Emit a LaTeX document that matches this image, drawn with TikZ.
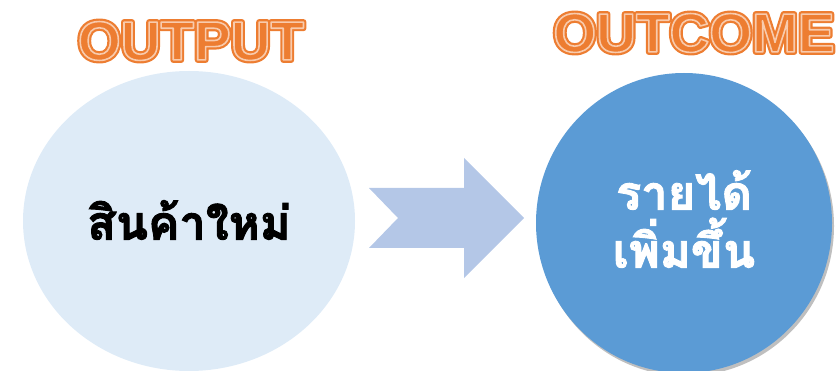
\documentclass[tikz,border=0pt]{standalone}
\usepackage{fontspec}
\usetikzlibrary{shapes.geometric,shadows}

\newfontfamily\thaifont[Script=Thai,BoldFeatures={FakeBold=2}]{Loma}
\newfontfamily\titlefont{Liberation Sans}

\definecolor{wordorange}{HTML}{ED7D31}
\definecolor{wordpeach}{HTML}{F8CBAD}
\definecolor{paleblue}{HTML}{DEEBF7}
\definecolor{midblue}{HTML}{5B9BD5}
\definecolor{arrowblue}{HTML}{B4C7E7}

% outlined letters: fill and stroke the glyphs
\newcommand\artstroke[2]{\special{pdf:literal direct 2 Tr #1 w 1 j}#2\special{pdf:literal direct 0 Tr}}
\newcommand\peachline{\special{pdf:literal direct 0.973 0.796 0.678 RG}}

\begin{document}
\begin{tikzpicture}[x=1pt,y=1pt]

\tikzset{blob/.style={ellipse,minimum width=332pt,minimum height=300pt,inner sep=0pt},}
\tikzset{thai/.style={font=\thaifont\bfseries\fontsize{47}{58}\selectfont,align=center,inner sep=0pt},}
\tikzset{title/.style={font=\titlefont\bfseries\fontsize{55}{60}\selectfont,text=wordorange,inner sep=0pt},}

\useasboundingbox (0,0) rectangle (840,-371);

	\draw
		(189,-221) node[blob,fill=paleblue] (product) {}
		(684,-223) node[blob,minimum width=296pt,fill=midblue,
			drop shadow={shadow xshift=2pt,shadow yshift=-3pt,opacity=0.25,fill=black}] (income) {}
		(191,-41) node[title] (output) {\artstroke{6}{OUTPUT}}
		(694,-33) node[title] (outcome) {\artstroke{6}{OUTCOME}};

	\draw ([yshift=1pt]product) node[thai,text=black] (productlabel) {สินค้าใหม่};
	\draw ([yshift=4pt]income) node[thai,text=white] (incomelabel) {รายได้\\เพิ่มขึ้น};

	\draw (output) node[title] {\peachline\artstroke{1.6}{OUTPUT}};
	\draw (outcome) node[title] {\peachline\artstroke{1.6}{OUTCOME}};

	\fill[arrowblue] (369,-188) -- (464,-188) -- (464,-158) -- (524,-218) -- (464,-278) -- (464,-248) -- (369,-248) -- (398,-218) -- cycle;

\end{tikzpicture}
\end{document}
